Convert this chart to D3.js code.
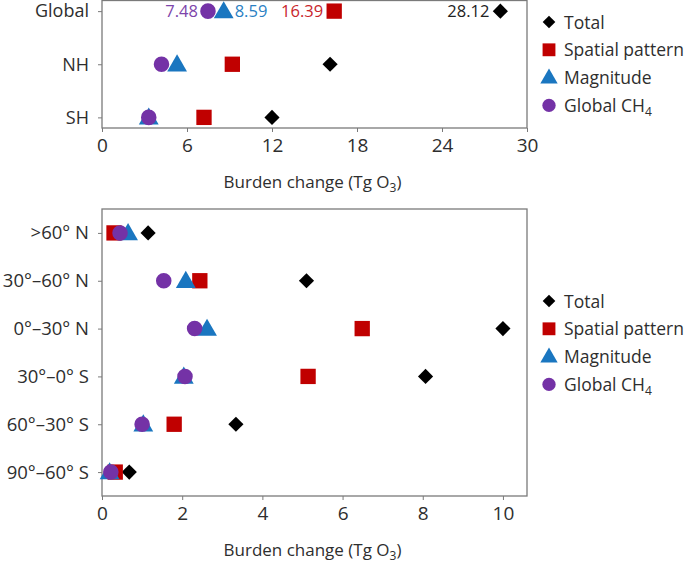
<!DOCTYPE html>
<html>
<head>
<meta charset="utf-8">
<script src="https://cdn.jsdelivr.net/npm/d3@7"></script>
<style>
  body { margin: 0; background: #fff; }
  svg text { font-family: "Open Sans", sans-serif; font-weight: 400; fill: #2e2e2e; }
</style>
</head>
<body>
<div id="chart"></div>
<script>
// top panel data (Tg O3)
var hemiRegions = ["Global", "NH", "SH"];
var hemiTotal = [28.12, 16.1, 12.0];
var hemiSpatial = [16.39, 9.2, 7.2];
var hemiMagnitude = [8.59, 5.3, 3.3];
var hemiMethane = [7.48, 4.2, 3.3];
var hemiTicks = [0, 6, 12, 18, 24, 30];

// bottom panel data (Tg O3)
var bandRegions = [">60° N", "30°–60° N", "0°–30° N", "30°–0° S", "60°–30° S", "90°–60° S"];
var bandTotal = [1.15, 5.1, 10.0, 8.07, 3.34, 0.68];
var bandSpatial = [0.3, 2.44, 6.49, 5.14, 1.8, 0.33];
var bandMagnitude = [0.65, 2.09, 2.62, 2.04, 1.03, 0.19];
var bandMethane = [0.45, 1.54, 2.31, 2.07, 1.0, 0.22];
var bandTicks = [0, 2, 4, 6, 8, 10];

var seriesNames = ["Total", "Spatial pattern", "Magnitude", "Global CH4"];
var seriesColors = ["#000000", "#c00000", "#1a76c0", "#7432a6"];
var labelColors = ["#222222", "#c8262b", "#2a80c3", "#7d45ab"];
var seriesShapes = [d3.symbolSquare, d3.symbolSquare, d3.symbolTriangle, d3.symbolCircle];

var width = 685, height = 569;
var frameColor = "#7a7a7a";

var svg = d3.select("#chart")
  .append("svg")
  .attr("width", width)
  .attr("height", height);

function shapePath(i, big) {
  // sizes are areas; the total diamond is a square turned 45 degrees
  var sizes = big ? [115, 235, 170, 190] : [80, 165, 130, 140];
  return d3.symbol().type(seriesShapes[i]).size(sizes[i])();
}

function shapeTransform(s, px, py) {
  var t = "translate(" + px + "," + py + ")";
  if (s == 0) t += " rotate(45)";
  return t;
}

function drawPanel(opts) {
  var x = d3.scaleLinear().domain(opts.xDomain).range([opts.left, opts.right]);
  var y = d3.scalePoint().domain(opts.regions).range([opts.top, opts.bottom]).padding(opts.pad);

  // frame
  svg.append("rect")
    .attr("x", opts.left)
    .attr("y", opts.top)
    .attr("width", opts.right - opts.left)
    .attr("height", opts.bottom - opts.top)
    .attr("fill", "none")
    .attr("stroke", frameColor)
    .attr("stroke-width", 1.3);

  var xAxis = svg.append("g")
    .attr("transform", "translate(0," + opts.bottom + ")")
    .call(d3.axisBottom(x).tickValues(opts.ticks).tickSize(4).tickPadding(7).tickFormat(d3.format("d")));
  xAxis.select(".domain").remove();
  xAxis.selectAll("line").attr("stroke", frameColor);
  xAxis.selectAll("text").style("font-size", "19px");

  var yAxis = svg.append("g")
    .attr("transform", "translate(" + opts.left + ",0)")
    .call(d3.axisLeft(y).tickSize(4).tickPadding(9));
  yAxis.select(".domain").remove();
  yAxis.selectAll("line").attr("stroke", frameColor);
  yAxis.selectAll("text").style("font-size", opts.yFont);

  // axis title
  var title = svg.append("text")
    .attr("x", (opts.left + opts.right) / 2 - 2)
    .attr("y", opts.bottom + 60)
    .attr("text-anchor", "middle")
    .style("font-size", "17px")
    .text("Burden change (Tg O");
  title.append("tspan").attr("dy", 4).style("font-size", "12px").text("3");
  title.append("tspan").attr("dy", -4).text(")");

  // markers, drawn total first so the smaller contributions sit on top
  opts.values.forEach(function(vals, s) {
    svg.selectAll("marks" + s)
      .data(opts.regions)
      .enter()
      .append("path")
      .attr("d", shapePath(s, true))
      .attr("transform", function(d, i) {
        var dy = s == 2 ? 1.5 : 0;
        return shapeTransform(s, x(vals[i]), y(d) + dy);
      })
      .attr("fill", seriesColors[s]);
  });

  // legend
  seriesNames.forEach(function(name, s) {
    var ly = opts.legendY + s * 27.8;
    svg.append("path")
      .attr("d", shapePath(s, false))
      .attr("transform", shapeTransform(s, 549, ly + (s == 2 ? 1 : 0)))
      .attr("fill", seriesColors[s]);
    var t = svg.append("text")
      .attr("x", 564)
      .attr("y", ly + 6.5)
      .style("font-size", "17.5px");
    if (name == "Global CH4") {
      t.text("Global CH");
      t.append("tspan").attr("dy", 4).style("font-size", "12px").text("4");
    } else {
      t.text(name);
    }
  });

  return x;
}

var xTop = drawPanel({
  regions: hemiRegions,
  values: [hemiTotal, hemiSpatial, hemiMagnitude, hemiMethane],
  xDomain: [0, 30],
  ticks: hemiTicks,
  left: 102, right: 527, top: 0.5, bottom: 128,
  pad: 0.2,
  yFont: "18px",
  legendY: 22
});

var xBottom = drawPanel({
  regions: bandRegions,
  values: [bandTotal, bandSpatial, bandMagnitude, bandMethane],
  xDomain: [0, 10.6],
  ticks: bandTicks,
  left: 102, right: 527, top: 209, bottom: 496,
  pad: 0.5,
  yFont: "18.5px",
  legendY: 301
});

// value labels on the global row
var globalRowY = 10.5;
var globalLabels = [
  { v: hemiTotal[0], s: 0, anchor: "end", off: -11 },
  { v: hemiSpatial[0], s: 1, anchor: "end", off: -11 },
  { v: hemiMagnitude[0], s: 2, anchor: "start", off: 11 },
  { v: hemiMethane[0], s: 3, anchor: "end", off: -10 }
];
svg.selectAll("globalLabels")
  .data(globalLabels)
  .enter()
  .append("text")
  .attr("x", function(d) { return xTop(d.v) + d.off; })
  .attr("y", globalRowY + 6)
  .attr("text-anchor", function(d) { return d.anchor; })
  .style("font-size", "16.5px")
  .style("fill", function(d) { return labelColors[d.s]; })
  .text(function(d) { return d3.format(".2f")(d.v); });
</script>
</body>
</html>
